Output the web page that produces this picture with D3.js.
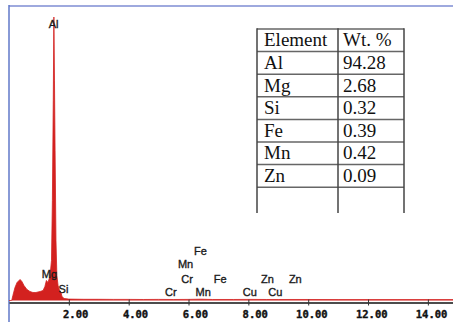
<!DOCTYPE html>
<html>
<head>
<meta charset="utf-8">
<script src="https://cdn.jsdelivr.net/npm/d3@7"></script>
<style>
  html, body { margin: 0; padding: 0; background: #fff; }
  svg { display: block; }
</style>
</head>
<body>
<div id="chart"></div>
<script>
// EDS spectrum: energy (keV) and counts per channel
const energy = [0.00, 0.09, 0.13, 0.20, 0.27, 0.37, 0.43, 0.50, 0.60, 0.70, 0.80, 0.90, 1.04, 1.14, 1.20, 1.25, 1.30, 1.37, 1.42, 1.45, 1.48, 1.50, 1.52, 1.54, 1.57, 1.60, 1.64, 1.69, 1.74, 1.77, 1.84, 2.00, 2.50, 3.00, 3.50, 4.00, 4.50, 5.00, 5.50, 6.00, 6.40, 6.80, 7.50, 8.00, 8.60, 9.00, 10.00, 11.00, 12.00, 13.00, 14.00, 14.84];
const counts = [0, 0, 50, 130, 180, 210, 190, 150, 110, 90, 80, 80, 90, 100, 140, 200, 180, 240, 400, 1000, 2000, 2830, 2200, 1500, 600, 250, 150, 100, 80, 40, 20, 14, 12, 12, 11, 11, 10, 11, 10, 11, 13, 10, 10, 11, 10, 10, 10, 9, 9, 9, 9, 9];

// Element line markers
const lineNames = ["Al", "Mg", "Si", "Cr", "Cr", "Mn", "Mn", "Fe", "Fe", "Cu", "Cu", "Zn", "Zn"];
const lineEnergy = [1.49, 1.35, 1.82, 5.41, 5.95, 5.90, 6.49, 6.40, 7.06, 8.05, 8.90, 8.64, 9.57];
const lineLevel = [2720, 220, 70, 40, 170, 320, 40, 450, 170, 40, 40, 170, 170];

// Axis ticks (keV)
const tickValues = [2, 4, 6, 8, 10, 12, 14];

// Composition table
const tableHeader = ["Element", "Wt. %"];
const tableElements = ["Al", "Mg", "Si", "Fe", "Mn", "Zn"];
const tableWeights = ["94.28", "2.68", "0.32", "0.39", "0.42", "0.09"];

const W = 453, H = 322;
const svg = d3.select("#chart").append("svg").attr("width", W).attr("height", H);

const x = d3.scaleLinear().domain([0, 14.84]).range([9, 453]);
const y = d3.scaleLinear().domain([0, 2940]).range([300.5, 6]);

const data = energy.map((e, i) => ({ e, c: counts[i] }));

// Frame
svg.append("line").attr("x1", 9).attr("x2", W).attr("y1", 6).attr("y2", 6)
  .attr("stroke", "#9ea9de").attr("stroke-width", 2);
svg.append("line").attr("x1", 9).attr("x2", 9).attr("y1", 5).attr("y2", H)
  .attr("stroke", "#6078c8").attr("stroke-width", 1.5);

// Spectrum fill
const red = "#d3211f";
const area = d3.area().x(d => x(d.e)).y0(y(0)).y1(d => y(d.c)).curve(d3.curveLinear);
svg.append("path").datum(data).attr("d", area).attr("fill", red);
svg.append("path").datum(data)
  .attr("d", d3.line().x(d => x(d.e)).y(d => y(d.c)))
  .attr("fill", "none").attr("stroke", red).attr("stroke-width", 0.8);

// Energy axis
const axis = d3.axisBottom(x).tickValues(tickValues).tickSize(3).tickSizeOuter(0)
  .tickFormat(d3.format(".2f"));
const gx = svg.append("g").attr("transform", "translate(0,302.5)").call(axis);
gx.select(".domain").attr("stroke", "#111").attr("stroke-width", 1.6);
gx.selectAll(".tick line").attr("stroke", "#333").attr("y1", -3);
gx.selectAll(".tick text")
  .attr("text-anchor", "end").attr("x", 19).attr("y", 15.5).attr("dy", 0)
  .attr("font-family", "DejaVu Sans Mono").attr("font-weight", "bold")
  .attr("font-size", "10.5px").attr("fill", "#111")
  .attr("stroke", "#111").attr("stroke-width", 0.4);

// Element labels
svg.append("g").selectAll("text").data(lineNames).join("text")
  .attr("x", (d, i) => x(lineEnergy[i]))
  .attr("y", (d, i) => y(lineLevel[i]))
  .attr("text-anchor", "middle")
  .attr("font-family", "Liberation Sans, Arial, sans-serif")
  .attr("font-size", "11px")
  .attr("fill", "#1a1a1a")
  .attr("stroke", "#1a1a1a").attr("stroke-width", 0.35)
  .text(d => d);

// Composition table
const tx = [257, 338, 404];
const rowH = 22.6, ty0 = 29, tBottom = 213;
const nRows = tableElements.length + 1;
const tbl = svg.append("g");
d3.range(nRows + 1).forEach(r => {
  tbl.append("line").attr("x1", tx[0]).attr("x2", tx[2])
    .attr("y1", ty0 + r * rowH).attr("y2", ty0 + r * rowH)
    .attr("stroke", "#666").attr("stroke-width", 1.5);
});
tx.forEach(cx => {
  tbl.append("line").attr("x1", cx).attr("x2", cx).attr("y1", ty0 - 0.75).attr("y2", tBottom)
    .attr("stroke", "#444").attr("stroke-width", 1.5);
});
const rows = [tableHeader].concat(tableElements.map((e, i) => [e, tableWeights[i]]));
rows.forEach((r, i) => {
  r.forEach((txt, j) => {
    tbl.append("text").attr("x", tx[j] + (j === 0 ? 7 : 5))
      .attr("y", ty0 + i * rowH + rowH / 2 + 6)
      .attr("font-family", "Liberation Serif, Times New Roman, serif")
      .attr("font-size", "19px").attr("fill", "#111").text(txt);
  });
});
</script>
</body>
</html>
